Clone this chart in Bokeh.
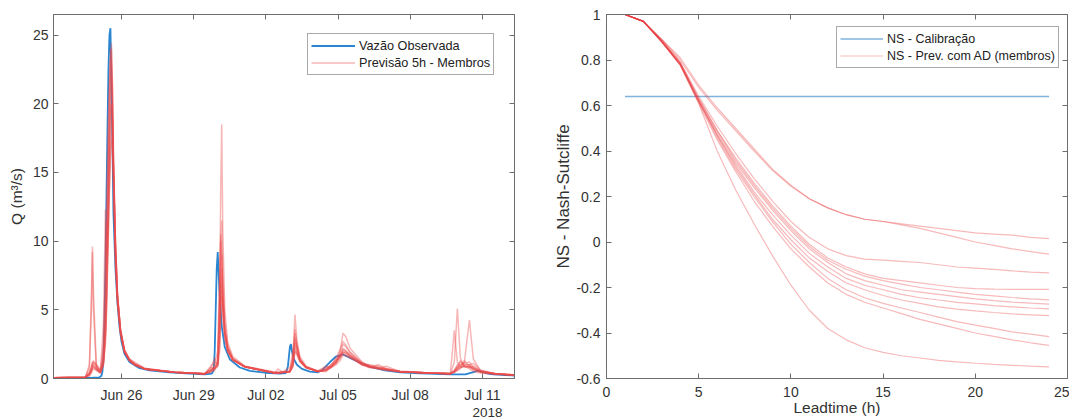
from datetime import datetime, timedelta
from bokeh.plotting import figure
from bokeh.layouts import row
from bokeh.models import (Range1d, FixedTicker, DatetimeTickFormatter, DatetimeAxis,
                          LinearAxis, Legend, LegendItem, Title, CustomJSTickFormatter)
from bokeh.embed import file_html
from bokeh.resources import INLINE

# ---------------- data: left panel (hydrograph) ----------------
START = datetime(2018, 6, 23)          # hours below are counted from this instant

obs_hours = [4, 40, 50, 52, 53, 54, 55, 56, 57, 58, 59, 60, 61, 62, 63, 64, 66, 68, 70, 72,
             75, 80, 90, 100, 120, 140, 155, 162, 164, 165, 166, 167, 168, 169, 170, 172, 175, 180, 190, 200,
             215, 230, 236, 238, 239, 240, 241, 242, 244, 247, 252, 260, 268, 272, 280, 286, 293, 300, 310, 320,
             335, 350, 370, 400, 415, 422, 428, 433, 440, 455, 464]
obs_q = [0.05, 0.05, 0.08, 0.2, 0.5, 1.5, 4.0, 8.0, 13.0, 18.0, 22.5, 25.0, 25.5, 21.0, 17.0, 12.0, 8.0, 5.5, 3.8, 2.7,
         1.8, 1.2, 0.75, 0.6, 0.45, 0.35, 0.3, 0.35, 0.6, 2.0, 5.0, 8.0, 9.2, 7.5, 6.0, 3.8, 2.3, 1.4, 0.8, 0.55,
         0.42, 0.35, 0.4, 0.9, 1.6, 2.3, 2.5, 2.0, 1.4, 1.0, 0.7, 0.5, 0.45, 0.6, 1.2, 1.6, 1.75, 1.5, 1.15, 0.85,
         0.6, 0.45, 0.38, 0.3, 0.3, 0.45, 0.58, 0.45, 0.32, 0.25, 0.22]

member_hours = [4, 36, 40, 42, 43, 44, 47, 51, 54, 56, 57, 58, 59, 60, 61, 62, 63, 64, 66, 68,
                71, 75, 80, 85, 95, 125, 155, 161, 165, 168, 170, 171, 172, 173, 175, 178, 183, 195, 225, 228,
                233, 240, 243, 245, 247, 250, 256, 268, 276, 281, 286, 290, 293, 296, 300, 306, 312, 320, 328, 336,
                350, 380, 400, 404, 407, 410, 414, 419, 423, 430, 445, 464]

m01 = [0.05, 0.1, 1.0, 6.0, 9.6, 6.5, 0.8, 0.5, 1.5, 4.0, 7.0, 11.0, 15.0, 19.0, 23.0, 24.4, 21.0, 16.0, 9.5, 6.0,
       3.5, 2.0, 1.3, 1.0, 0.7, 0.45, 0.35, 0.8, 0.7, 1.0, 6.0, 14.0, 18.5, 11.0, 5.0, 2.6, 1.6, 0.9, 0.45, 0.5,
       0.45, 0.5, 1.5, 4.65, 2.8, 1.6, 0.9, 0.55, 0.5, 0.9, 1.2, 2.0, 3.3, 3.0, 2.2, 1.7, 1.2, 0.9, 0.8, 0.7,
       0.55, 0.4, 0.35, 1.2, 5.1, 1.5, 0.8, 0.9, 0.6, 0.45, 0.32, 0.25]
m02 = [0.05, 0.1, 0.8, 5.0, 9.2, 5.0, 0.7, 0.4, 1.0, 3.0, 5.5, 9.0, 13.0, 17.0, 20.5, 22.0, 20.0, 15.5, 9.0, 5.8,
       3.4, 2.0, 1.3, 1.0, 0.7, 0.45, 0.35, 0.6, 0.8, 1.1, 5.0, 10.0, 11.5, 8.0, 4.2, 2.4, 1.5, 0.9, 0.45, 0.4,
       0.45, 0.5, 1.2, 3.3, 2.4, 1.4, 0.85, 0.5, 0.6, 0.8, 1.1, 1.8, 2.5, 2.3, 1.9, 1.5, 1.1, 0.85, 0.75, 0.65,
       0.5, 0.4, 0.4, 3.5, 1.2, 0.8, 0.9, 0.7, 0.5, 0.4, 0.3, 0.25]
m03 = [0.05, 0.1, 0.4, 0.8, 1.1, 1.3, 1.0, 0.6, 4.0, 12.3, 8.0, 10.0, 14.0, 17.5, 19.5, 20.0, 18.5, 14.5, 8.5, 5.5,
       3.3, 1.9, 1.3, 1.1, 0.7, 0.45, 0.35, 0.9, 1.2, 1.0, 7.0, 10.0, 8.5, 6.0, 3.6, 2.2, 1.4, 0.85, 0.4, 0.45,
       0.4, 0.5, 1.3, 3.0, 2.2, 1.3, 0.8, 0.5, 0.7, 1.0, 1.3, 1.6, 2.0, 1.9, 1.7, 1.4, 1.05, 1.0, 0.9, 0.7,
       0.5, 0.4, 0.35, 0.6, 0.9, 1.0, 1.2, 4.26, 1.4, 0.6, 0.35, 0.25]
m04 = [0.05, 0.1, 0.3, 0.6, 0.9, 1.0, 0.8, 0.5, 2.0, 6.0, 11.5, 9.0, 12.0, 15.0, 17.5, 18.5, 19.0, 16.0, 10.0, 6.0,
       3.5, 2.0, 1.4, 1.1, 0.75, 0.45, 0.35, 0.7, 1.5, 1.0, 4.0, 8.0, 9.0, 6.5, 3.5, 2.2, 1.4, 0.85, 0.4, 0.4,
       0.45, 0.5, 1.0, 2.8, 2.3, 1.4, 0.85, 0.55, 0.8, 0.9, 1.2, 1.5, 1.9, 1.9, 1.6, 1.3, 1.0, 0.8, 1.0, 0.75,
       0.5, 0.4, 0.35, 0.5, 0.8, 1.3, 1.0, 1.0, 1.1, 0.6, 0.35, 0.25]
m05 = [0.05, 0.1, 0.5, 0.9, 1.2, 1.1, 0.9, 0.5, 1.2, 3.5, 6.0, 10.0, 14.5, 18.5, 21.5, 23.0, 20.5, 15.0, 9.0, 5.8,
       3.4, 2.0, 1.3, 1.0, 0.7, 0.45, 0.35, 0.6, 0.9, 1.2, 3.0, 6.5, 8.0, 6.0, 3.4, 2.1, 1.4, 0.85, 0.4, 0.7,
       0.45, 0.5, 1.1, 2.6, 2.1, 1.3, 0.8, 0.55, 0.9, 0.8, 1.3, 1.6, 2.2, 2.0, 1.7, 1.35, 1.1, 0.85, 0.7, 0.9,
       0.5, 0.4, 0.35, 0.6, 1.0, 1.2, 0.9, 0.8, 0.9, 0.55, 0.35, 0.25]
m06 = [0.05, 0.1, 0.3, 0.7, 1.0, 0.9, 0.7, 0.4, 1.0, 3.0, 5.0, 8.0, 11.0, 14.0, 16.5, 17.5, 18.0, 15.5, 10.0, 6.2,
       3.6, 2.1, 1.4, 1.05, 0.7, 0.45, 0.35, 0.5, 0.8, 1.0, 3.5, 7.0, 7.5, 5.5, 3.2, 2.0, 1.35, 0.85, 0.4, 0.4,
       0.45, 0.5, 1.0, 2.4, 2.0, 1.3, 0.8, 0.5, 0.6, 0.9, 1.1, 1.5, 1.9, 1.8, 1.6, 1.3, 1.0, 0.95, 0.75, 0.65,
       0.5, 0.4, 0.35, 0.5, 0.7, 1.0, 1.1, 1.2, 0.8, 0.55, 0.35, 0.25]
m07 = [0.05, 0.1, 0.2, 0.5, 0.8, 0.9, 0.6, 0.4, 1.5, 5.0, 9.0, 13.5, 18.0, 21.5, 24.0, 22.5, 19.0, 14.0, 8.5, 5.5,
       3.2, 1.9, 1.3, 1.0, 0.7, 0.45, 0.35, 0.5, 0.6, 1.3, 5.5, 7.0, 6.0, 4.5, 2.9, 1.9, 1.3, 0.85, 0.4, 0.4,
       0.45, 0.6, 1.6, 2.2, 1.7, 1.2, 0.8, 0.5, 0.6, 1.0, 1.4, 1.6, 1.8, 1.7, 1.5, 1.25, 1.0, 0.8, 0.75, 0.7,
       0.5, 0.4, 0.35, 0.5, 0.7, 0.8, 0.9, 0.8, 0.7, 0.5, 0.35, 0.25]
m08 = [0.05, 0.1, 0.4, 0.7, 0.9, 1.2, 1.0, 0.6, 1.2, 3.2, 5.5, 9.5, 13.0, 16.5, 19.0, 20.0, 19.0, 15.0, 9.5, 6.0,
       3.5, 2.0, 1.4, 1.2, 0.75, 0.45, 0.35, 0.6, 0.7, 0.9, 2.5, 5.0, 6.5, 5.2, 3.2, 2.0, 1.4, 0.85, 0.4, 0.4,
       0.45, 0.5, 0.9, 2.0, 1.9, 1.3, 0.8, 0.5, 0.7, 0.9, 1.5, 2.1, 2.7, 2.4, 1.9, 1.5, 1.15, 0.9, 0.8, 0.65,
       0.5, 0.4, 0.35, 0.5, 0.8, 0.9, 1.0, 1.0, 0.8, 0.5, 0.35, 0.25]
m09 = [0.05, 0.1, 0.2, 0.4, 0.6, 0.7, 0.6, 0.4, 1.0, 2.5, 4.5, 7.5, 10.5, 13.5, 16.0, 17.0, 17.5, 15.0, 10.0, 6.2,
       3.6, 2.1, 1.4, 1.0, 0.7, 0.45, 0.35, 0.45, 0.7, 0.9, 2.0, 4.5, 6.0, 5.0, 3.1, 2.0, 1.35, 0.85, 0.4, 0.4,
       0.45, 0.5, 0.8, 1.9, 1.8, 1.25, 0.8, 0.5, 0.6, 0.8, 1.2, 1.7, 2.1, 2.0, 1.7, 1.4, 1.1, 0.85, 0.7, 0.6,
       0.5, 0.4, 0.35, 0.45, 0.6, 0.8, 0.9, 0.9, 0.7, 0.5, 0.35, 0.25]
m10 = [0.05, 0.1, 0.3, 0.5, 0.7, 0.8, 0.7, 0.5, 2.5, 8.0, 12.0, 15.5, 19.0, 21.5, 23.0, 24.0, 21.5, 16.5, 9.5, 6.0,
       3.5, 2.0, 1.35, 1.05, 0.7, 0.45, 0.35, 0.5, 1.0, 2.0, 8.0, 10.5, 9.0, 6.0, 3.5, 2.2, 1.4, 0.85, 0.4, 0.4,
       0.5, 0.8, 2.0, 3.6, 2.5, 1.4, 0.85, 0.5, 0.6, 0.8, 1.0, 1.3, 1.7, 1.65, 1.5, 1.3, 1.0, 0.8, 0.7, 0.6,
       0.5, 0.4, 0.35, 0.45, 0.6, 0.7, 1.3, 0.9, 0.7, 0.5, 0.35, 0.25]
members_q = [m01, m02, m03, m04, m05, m06, m07, m08, m09, m10]

date_ticks = ["2018-06-26", "2018-06-29", "2018-07-02", "2018-07-05", "2018-07-08", "2018-07-11"]
year_label = "2018"
q_ticks = [0, 5, 10, 15, 20, 25]

# ---------------- data: right panel (Nash-Sutcliffe vs lead time) ----------------
leadtime = [1, 2, 3, 4, 5, 6, 7, 8, 9, 10, 11, 12, 13, 14, 15, 16, 17, 18, 19, 20, 21, 22, 23, 24]
calib_lead = [1, 24]
ns_calib = [0.64, 0.64]
ns_m01 = [1.00, 0.97, 0.89, 0.81, 0.69, 0.59, 0.50, 0.41, 0.32, 0.25, 0.19, 0.15, 0.12, 0.10, 0.09, 0.08, 0.07, 0.06, 0.05, 0.04, 0.035, 0.03, 0.02, 0.015]
ns_m02 = [1.00, 0.97, 0.89, 0.80, 0.68, 0.58, 0.49, 0.40, 0.315, 0.245, 0.19, 0.15, 0.12, 0.10, 0.09, 0.075, 0.06, 0.04, 0.02, 0.0, -0.015, -0.03, -0.042, -0.053]
ns_m03 = [1.00, 0.97, 0.885, 0.79, 0.64, 0.51, 0.39, 0.28, 0.18, 0.09, 0.02, -0.03, -0.06, -0.075, -0.08, -0.085, -0.09, -0.10, -0.11, -0.115, -0.12, -0.127, -0.132, -0.136]
ns_m04 = [1.00, 0.97, 0.885, 0.79, 0.63, 0.49, 0.37, 0.26, 0.16, 0.07, -0.01, -0.07, -0.11, -0.14, -0.16, -0.17, -0.18, -0.19, -0.20, -0.205, -0.207, -0.208, -0.208, -0.208]
ns_m05 = [1.00, 0.97, 0.885, 0.785, 0.63, 0.49, 0.36, 0.25, 0.15, 0.06, -0.02, -0.08, -0.12, -0.15, -0.17, -0.185, -0.20, -0.21, -0.22, -0.23, -0.237, -0.244, -0.25, -0.254]
ns_m06 = [1.00, 0.97, 0.88, 0.785, 0.62, 0.48, 0.35, 0.24, 0.14, 0.05, -0.03, -0.09, -0.14, -0.17, -0.19, -0.21, -0.22, -0.23, -0.24, -0.25, -0.258, -0.264, -0.269, -0.273]
ns_m07 = [1.00, 0.97, 0.88, 0.78, 0.62, 0.47, 0.34, 0.22, 0.12, 0.03, -0.05, -0.11, -0.16, -0.19, -0.21, -0.23, -0.245, -0.255, -0.265, -0.272, -0.28, -0.285, -0.29, -0.294]
ns_m08 = [1.00, 0.97, 0.88, 0.78, 0.62, 0.47, 0.33, 0.21, 0.10, 0.01, -0.07, -0.13, -0.18, -0.21, -0.235, -0.255, -0.27, -0.285, -0.295, -0.303, -0.31, -0.316, -0.32, -0.324]
ns_m09 = [1.00, 0.97, 0.88, 0.78, 0.62, 0.46, 0.32, 0.20, 0.09, -0.01, -0.09, -0.16, -0.21, -0.245, -0.27, -0.29, -0.31, -0.33, -0.35, -0.365, -0.38, -0.395, -0.405, -0.416]
ns_m10 = [1.00, 0.97, 0.88, 0.775, 0.61, 0.45, 0.31, 0.18, 0.07, -0.03, -0.11, -0.18, -0.23, -0.265, -0.29, -0.315, -0.34, -0.36, -0.38, -0.40, -0.415, -0.43, -0.443, -0.454]
ns_m11 = [1.00, 0.97, 0.88, 0.78, 0.61, 0.40, 0.23, 0.08, -0.06, -0.19, -0.30, -0.38, -0.43, -0.465, -0.485, -0.50, -0.51, -0.52, -0.527, -0.533, -0.538, -0.542, -0.546, -0.549]
ns_members = [ns_m01, ns_m02, ns_m03, ns_m04, ns_m05, ns_m06, ns_m07, ns_m08, ns_m09, ns_m10, ns_m11]
lead_ticks = [0, 5, 10, 15, 20, 25]
ns_ticks = [-0.6, -0.4, -0.2, 0, 0.2, 0.4, 0.6, 0.8, 1]
ns_tick_labels = ["-0.6", "-0.4", "-0.2", "0", "0.2", "0.4", "0.6", "0.8", "1"]

# ---------------- styling ----------------
FONT = "Liberation Sans"
AX = "#6e6e6e"
TXT = "#333333"
BLUE = "#2a86d1"
RED = "#ec4a4a"
RED2 = "#e8383c"


def ms(d):
    return (d - datetime(1970, 1, 1)).total_seconds() * 1000.0


def to_dt(hours):
    return [START + timedelta(hours=h) for h in hours]


def style_axes(p, tick_font="14px"):
    p.xgrid.visible = False
    p.ygrid.visible = False
    p.outline_line_color = AX
    p.outline_line_width = 1
    p.background_fill_color = "white"
    p.border_fill_color = "white"
    for ax in p.axis:
        ax.axis_line_color = AX
        ax.major_tick_line_color = AX
        ax.major_tick_in = 5
        ax.major_tick_out = 0
        ax.minor_tick_line_color = None
        ax.major_label_text_font = FONT
        ax.major_label_text_font_size = tick_font
        ax.major_label_text_color = TXT
        ax.axis_label_text_font = FONT
        ax.axis_label_text_font_style = "normal"
        ax.axis_label_text_color = TXT


blank_fmt = CustomJSTickFormatter(code="return ''")


def blank_axis(ax):
    ax.formatter = blank_fmt
    ax.major_label_standoff = 0
    ax.axis_label = None


# ---------------- left figure ----------------
tick_ms = [ms(datetime.fromisoformat(d)) for d in date_ticks]
date_fmt = DatetimeTickFormatter(days="%b %d", months="%b %d", hours="%b %d", years="%b %d")

p1 = figure(width=540, height=420, x_axis_type="datetime",
            x_range=Range1d(START + timedelta(hours=4.2), START + timedelta(hours=464)),
            y_range=Range1d(0, 26.5),
            output_backend="svg", toolbar_location=None,
            min_border_left=53, min_border_right=26, min_border_top=14, min_border_bottom=42)
xb1 = p1.below[0]
yl1 = p1.left[0]

r_obs = p1.line(to_dt(obs_hours), obs_q, line_color=BLUE, line_width=1.8)
member_renderers = []
for mq in members_q:
    member_renderers.append(p1.line(to_dt(member_hours), mq, line_color=RED, line_width=1.5, line_alpha=0.4))

xb1.ticker = FixedTicker(ticks=tick_ms)
xb1.formatter = date_fmt
yl1.ticker = FixedTicker(ticks=q_ticks)
yl1.axis_label = "Q (m³/s)"

top1 = DatetimeAxis(ticker=FixedTicker(ticks=tick_ms))
right1 = LinearAxis(ticker=FixedTicker(ticks=q_ticks))
p1.add_layout(top1, "above")
p1.add_layout(right1, "right")
style_axes(p1)
blank_axis(top1)
blank_axis(right1)
xb1.major_label_standoff = 8
yl1.major_label_standoff = 5
yl1.axis_label_standoff = 5
yl1.axis_label_text_font_size = "15.5px"

p1.add_layout(Title(text=year_label, align="right", offset=12, standoff=0, text_font=FONT,
                    text_font_size="13.5px", text_font_style="normal", text_color=TXT), "below")

leg1 = Legend(items=[LegendItem(label="Vazão Observada", renderers=[r_obs]),
                     LegendItem(label="Previsão 5h - Membros", renderers=[member_renderers[0]])],
              location=(254, 303))
p1.add_layout(leg1)

# ---------------- right figure ----------------
p2 = figure(width=529, height=420, x_range=Range1d(0, 25), y_range=Range1d(-0.6, 1),
            output_backend="svg", toolbar_location=None,
            min_border_left=66, min_border_right=2, min_border_top=13, min_border_bottom=42)
xb2 = p2.below[0]
yl2 = p2.left[0]

r_cal = p2.line(calib_lead, ns_calib, line_color="#7fb3dd", line_width=1.5)
ns_renderers = []
for nq in ns_members:
    ns_renderers.append(p2.line(leadtime, nq, line_color=RED2, line_width=1.2, line_alpha=0.35))

xb2.ticker = FixedTicker(ticks=lead_ticks)
xb2.axis_label = "Leadtime (h)"
yl2.ticker = FixedTicker(ticks=ns_ticks)
yl2.major_label_overrides = {t: l for t, l in zip(ns_ticks, ns_tick_labels)}
yl2.axis_label = "NS - Nash-Sutcliffe"

top2 = LinearAxis(ticker=FixedTicker(ticks=lead_ticks))
right2 = LinearAxis(ticker=FixedTicker(ticks=ns_ticks))
p2.add_layout(top2, "above")
p2.add_layout(right2, "right")
style_axes(p2)
blank_axis(top2)
blank_axis(right2)
xb2.major_label_standoff = 8
xb2.axis_label_standoff = -1
xb2.axis_label_text_font_size = "15.5px"
yl2.major_label_standoff = 6
yl2.axis_label_standoff = 0
yl2.axis_label_text_font_size = "17px"

leg2 = Legend(items=[LegendItem(label="NS - Calibração", renderers=[r_cal]),
                     LegendItem(label="NS - Prev. com AD (membros)", renderers=[ns_renderers[0]])],
              location=(230, 310))
p2.add_layout(leg2)

for leg, fs, gw in ((leg1, "12.7px", 44), (leg2, "12.5px", 43)):
    leg.border_line_color = "#555555"
    leg.border_line_width = 1
    leg.background_fill_color = "white"
    leg.background_fill_alpha = 1
    leg.padding = 3
    leg.spacing = 0
    leg.margin = 0
    leg.glyph_width = gw
    leg.glyph_height = 17
    leg.label_height = 17
    leg.label_standoff = 4
    leg.label_text_font = FONT
    leg.label_text_font_size = fs
    leg.label_text_color = "#222222"

layout = row(p1, p2)
open("out.html", "w").write(file_html(layout, INLINE))
